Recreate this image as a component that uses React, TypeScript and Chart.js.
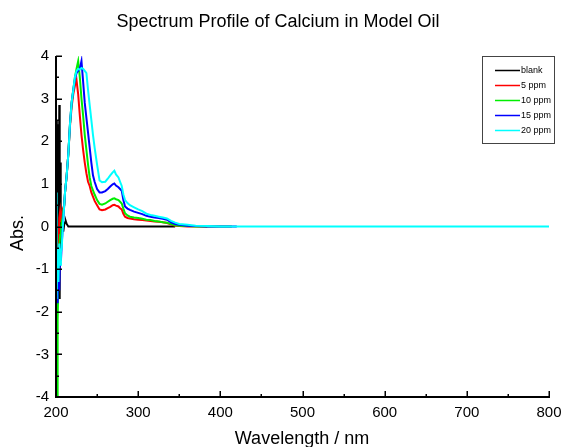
import { useEffect, useRef } from "react";
import { Chart, registerables } from "chart.js";

Chart.register(...registerables);

const FONT = '"Liberation Sans", Arial, Helvetica, sans-serif';

const chartTitle = "Spectrum Profile of Calcium in Model Oil";
const xAxisTitle = "Wavelength / nm";
const yAxisTitle = "Abs.";

// Wavelength grid shared by the four standard solutions (nm)
const wavelengths = [
  200, 200.5, 201, 201.5, 202, 203, 204, 205, 206, 207, 208, 209, 210, 211, 213, 215, 217, 219, 221, 223,
  225, 227, 229, 231, 233, 235, 237, 239, 241, 243, 245, 247, 250, 253, 256, 260, 263, 266, 269, 271,
  273, 276, 278, 280, 282, 284, 287, 290, 295, 300, 305, 310, 315, 320, 325, 330, 335, 340, 345, 350,
  360, 370, 384, 400, 414, 420, 450, 500, 600, 700, 800,
];

const ppm5 = [
  -0.5, -2.0, -4.5, -0.8, -1.3, -0.6, 0.2, 0.35, 0.1, 0.3, 0.4, 0.45, 0.5, 0.8, 1.2, 1.7, 2.35, 2.8, 3.1, 3.3,
  3.43, 3.1, 2.6, 2.15, 1.8, 1.5, 1.25, 1.05, 0.95, 0.8, 0.7, 0.6, 0.5, 0.4, 0.38, 0.4, 0.43, 0.46, 0.5, 0.51,
  0.49, 0.47, 0.43, 0.4, 0.3, 0.23, 0.2, 0.19, 0.17, 0.16, 0.15, 0.14, 0.13, 0.12, 0.11, 0.1, 0.08, 0.05, 0.02, 0.01,
  0, 0, 0, null, null, null, null, null, null, null, null,
];

const ppm10 = [
  -1.6, -2.4, -3.0, -4.5, -2.2, -1.2, -0.5, -0.2, -0.1, 0.1, 0.2, 0.35, 0.5, 0.8, 1.2, 1.7, 2.4, 2.9, 3.2, 3.5,
  3.7, 3.88, 3.5, 3.0, 2.6, 2.15, 1.8, 1.45, 1.15, 0.95, 0.85, 0.75, 0.62, 0.53, 0.51, 0.54, 0.58, 0.62, 0.65, 0.66,
  0.64, 0.62, 0.58, 0.54, 0.42, 0.31, 0.26, 0.23, 0.21, 0.2, 0.18, 0.16, 0.15, 0.13, 0.12, 0.1, 0.09, 0.06, 0.03, 0.02,
  0.01, 0, 0, 0, 0, null, null, null, null, null, null,
];

const ppm15 = [
  -0.5, -1.0, -1.2, -1.6, -1.8, -0.9, -1.5, -0.6, -0.8, -0.4, -0.1, 0.2, 0.5, 0.8, 1.2, 1.7, 2.4, 2.9, 3.2, 3.45,
  3.6, 3.65, 3.7, 3.88, 3.4, 2.9, 2.55, 2.2, 1.85, 1.5, 1.2, 1.05, 0.88, 0.8, 0.8, 0.83, 0.88, 0.94, 0.99, 1.01,
  0.96, 0.92, 0.88, 0.84, 0.62, 0.47, 0.42, 0.39, 0.35, 0.32, 0.29, 0.25, 0.23, 0.21, 0.2, 0.18, 0.16, 0.1, 0.06, 0.04,
  0.02, 0.01, 0, 0, 0, 0, null, null, null, null, null,
];

const ppm20 = [
  0.8, -0.6, -1.7, -0.9, -0.5, -1.3, -0.4, -0.9, -0.6, -0.5, -0.1, 0.2, 0.5, 0.8, 1.2, 1.7, 2.4, 2.9, 3.2, 3.5,
  3.65, 3.7, 3.68, 3.72, 3.7, 3.65, 3.6, 3.2, 2.85, 2.5, 2.15, 1.85, 1.45, 1.08, 1.04, 1.05, 1.12, 1.2, 1.27, 1.31,
  1.22, 1.15, 1.05, 0.95, 0.75, 0.62, 0.55, 0.5, 0.45, 0.4, 0.36, 0.3, 0.27, 0.25, 0.23, 0.21, 0.19, 0.13, 0.09, 0.06,
  0.04, 0.02, 0.01, 0, 0, 0, 0, 0, 0, 0, 0,
];

// Blank (model oil only)
const blankWavelengths = [
  200, 201, 201.5, 202, 202.5, 203, 203.5, 204, 204.5, 205, 205.5, 206, 206.5, 207, 208, 209, 210, 211, 212, 213,
  215, 345,
];
const blankAbs = [
  0.5, 2.5, -0.8, 2.2, 0.3, 2.4, -1.0, 2.85, -1.7, 1.5, -0.6, 0.5, -0.3, 0.3, -0.1, -0.1, 0.05, 0.1, 0.12, 0.06,
  0, 0,
];

const seriesLabels = ["blank", "5 ppm", "10 ppm", "15 ppm", "20 ppm"];
const seriesColors = ["#000000", "#ff0000", "#00ee00", "#0000ff", "#00ffff"];

const xMin = 200;
const xMax = 800;
const xMajorStep = 100;
const xMinorStep = 50;
const yMin = -4;
const yMax = 4;
const yMajorStep = 1;
const yMinorStep = 0.5;

function toPoints(xs: number[], ys: (number | null)[]) {
  return xs.map((x, i) => ({ x, y: ys[i] }));
}

const decorPlugin = {
  id: "decor",
  afterDraw(chart: any) {
    const { ctx } = chart;
    const xs = chart.scales.x;
    const ys = chart.scales.y;
    const left = xs.getPixelForValue(xMin);
    const right = xs.getPixelForValue(xMax);
    const top = ys.getPixelForValue(yMax);
    const bottom = ys.getPixelForValue(yMin);
    ctx.save();
    ctx.strokeStyle = "#000";
    ctx.lineCap = "butt";
    // axis lines
    ctx.lineWidth = 2;
    ctx.beginPath();
    ctx.moveTo(left, top);
    ctx.lineTo(left, bottom);
    ctx.lineTo(right + 1, bottom);
    ctx.stroke();
    // ticks (inward)
    ctx.lineWidth = 1.5;
    ctx.beginPath();
    for (let v = xMin; v <= xMax + 1e-9; v += xMinorStep) {
      const px = Math.round(xs.getPixelForValue(v)) + 0.25;
      const len = Math.abs(v % xMajorStep) < 1e-9 ? 6 : 3;
      ctx.moveTo(px, bottom);
      ctx.lineTo(px, bottom - len);
    }
    for (let v = yMin; v <= yMax + 1e-9; v += yMinorStep) {
      const py = Math.round(ys.getPixelForValue(v)) + 0.25;
      const len = Math.abs(v % yMajorStep) < 1e-9 ? 6 : 3;
      ctx.moveTo(left, py);
      ctx.lineTo(left + len, py);
    }
    ctx.stroke();

    // titles
    ctx.fillStyle = "#000";
    ctx.textAlign = "center";
    ctx.textBaseline = "middle";
    ctx.font = `18px ${FONT}`;
    ctx.fillText(chartTitle, 278, 22);
    ctx.fillText(xAxisTitle, 302, 439);
    ctx.save();
    ctx.translate(18, 233);
    ctx.rotate(-Math.PI / 2);
    ctx.fillText(yAxisTitle, 0, 0);
    ctx.restore();

    // legend
    const bx = 482.5, by = 56.5, bw = 72, bh = 87;
    ctx.fillStyle = "#fff";
    ctx.fillRect(bx, by, bw, bh);
    ctx.strokeStyle = "#444";
    ctx.lineWidth = 1;
    ctx.strokeRect(bx, by, bw, bh);
    ctx.font = `9px ${FONT}`;
    ctx.textAlign = "left";
    ctx.textBaseline = "middle";
    const rowY = [70.5, 85.5, 100.5, 115.5, 130.5];
    seriesLabels.forEach((lab, i) => {
      ctx.strokeStyle = seriesColors[i];
      ctx.lineWidth = 1.5;
      ctx.beginPath();
      ctx.moveTo(495, rowY[i]);
      ctx.lineTo(520, rowY[i]);
      ctx.stroke();
      ctx.fillStyle = "#000";
      ctx.fillText(lab, 521, rowY[i] + 0.5);
    });
    ctx.restore();
  },
};

export default function App() {
  const ref = useRef<HTMLCanvasElement | null>(null);
  useEffect(() => {
    if (!ref.current) return;
    const seriesValues = [ppm5, ppm10, ppm15, ppm20];
    const datasets: any[] = [
      {
        label: seriesLabels[0],
        data: toPoints(blankWavelengths, blankAbs),
        borderColor: seriesColors[0],
        borderWidth: 2,
        pointRadius: 0,
        fill: false,
        tension: 0,
        order: 4,
      },
      ...seriesValues.map((vals, i) => ({
        label: seriesLabels[i + 1],
        data: toPoints(wavelengths, vals),
        borderColor: seriesColors[i + 1],
        borderWidth: 2,
        pointRadius: 0,
        fill: false,
        tension: 0,
        spanGaps: false,
        order: 3 - i,
      })),
    ];
    const chart = new Chart(ref.current, {
      type: "line",
      data: { datasets },
      plugins: [decorPlugin],
      options: {
        responsive: false,
        animation: false,
        devicePixelRatio: 1,
        layout: { padding: { left: 0, right: 15, top: 56, bottom: 0 } },
        plugins: {
          legend: { display: false },
          title: { display: false },
          tooltip: { enabled: false },
        },
        scales: {
          x: {
            type: "linear",
            min: xMin,
            max: xMax,
            border: { display: false },
            grid: { display: false, drawTicks: false },
            ticks: {
              stepSize: xMajorStep,
              padding: 7,
              color: "#000",
              font: { family: FONT, size: 15 },
              maxRotation: 0,
            },
            afterFit: (s: any) => {
              s.height = 50;
              s.paddingLeft = 0;
              s.paddingRight = 0;
            },
          },
          y: {
            type: "linear",
            min: yMin,
            max: yMax,
            border: { display: false },
            grid: { display: false, drawTicks: false },
            ticks: {
              stepSize: yMajorStep,
              padding: 7,
              color: "#000",
              font: { family: FONT, size: 15 },
            },
            afterFit: (s: any) => {
              s.width = 56;
              s.paddingTop = 0;
              s.paddingBottom = 0;
            },
          },
        },
      },
    });
    return () => chart.destroy();
  }, []);
  return (
    <div style={{ position: "absolute", left: 0, top: 0, width: 564, height: 447, background: "#fff" }}>
      <canvas ref={ref} width={564} height={447} style={{ display: "block" }} />
    </div>
  );
}
